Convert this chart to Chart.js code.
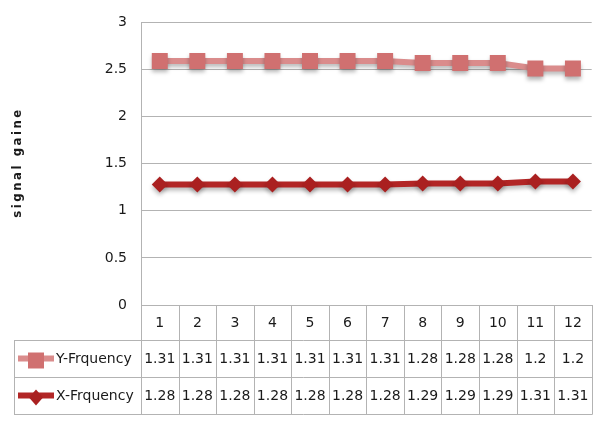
<!DOCTYPE html>
<html><head><meta charset="utf-8">
<script src="https://cdn.jsdelivr.net/npm/chart.js@4/dist/chart.umd.min.js"></script>
<style>html,body{margin:0;padding:0;background:#fff;}#wrap{width:603px;height:421px;position:relative;}</style>
</head><body><div id="wrap"><canvas id="c"></canvas></div>
<script>
const categories = ['1','2','3','4','5','6','7','8','9','10','11','12'];
const yFrequency = [1.31,1.31,1.31,1.31,1.31,1.31,1.31,1.28,1.28,1.28,1.2,1.2];
const xFrequency = [1.28,1.28,1.28,1.28,1.28,1.28,1.28,1.29,1.29,1.29,1.31,1.31];
const seriesNames = ['Y-Frquency','X-Frquency'];
const yTickMin = 0, yTickMax = 3, yTickStep = 0.5;
const axisTitle = 'signal gaine';

const FONT = "'DejaVu Sans', 'Liberation Sans', sans-serif";
const TFONT = "'DejaVu Sans Condensed', 'DejaVu Sans', sans-serif";
const Y_LINE = 'rgb(218,140,140)', Y_MARK = 'rgb(208,112,112)';
const X_LINE = 'rgb(178,38,38)', X_MARK = 'rgb(170,32,32)';
const GRID = '#b3b3b3';
const TXT = '#1a1a1a';

const shadowPlugin = {
  id: 'shadow',
  beforeDatasetsDraw(chart){ const c=chart.ctx; c.save(); c.shadowColor='rgba(0,0,0,0.28)'; c.shadowBlur=4; c.shadowOffsetY=3; },
  afterDatasetsDraw(chart){ chart.ctx.restore(); }
};

const titlePlugin = {
  id: 'yTitle',
  afterDraw(chart){
    const ctx = chart.ctx, area = chart.chartArea;
    ctx.save();
    ctx.font = 'bold 13px ' + TFONT;
    const w0 = ctx.measureText(axisTitle).width;
    const target = 108;
    const sp = Math.max(0, (target - w0) / (axisTitle.length - 1));
    ctx.letterSpacing = sp.toFixed(2) + 'px';
    ctx.fillStyle = TXT;
    ctx.textAlign = 'center'; ctx.textBaseline = 'middle';
    ctx.translate(18, (area.top + area.bottom) / 2);
    ctx.rotate(-Math.PI / 2);
    ctx.fillText(axisTitle, sp / 2, 0);
    ctx.restore();
  }
};

function drawMarker(ctx, style, x, y, color){
  ctx.fillStyle = color;
  ctx.beginPath();
  if (style === 'rect'){ ctx.rect(x-8, y-8, 16, 16); }
  else { ctx.moveTo(x, y-8); ctx.lineTo(x+7, y); ctx.lineTo(x, y+8); ctx.lineTo(x-7, y); ctx.closePath(); }
  ctx.fill();
}

const tablePlugin = {
  id: 'dataTable',
  afterDraw(chart){
    const ctx = chart.ctx, area = chart.chartArea, xs = chart.scales.x;
    const n = categories.length;
    const colW = (area.right - area.left) / n;
    const tableLeft = 14;
    const top = area.bottom;
    const headH = 35, rowH = 37;
    const rows = [
      {name: seriesNames[0], vals: yFrequency, line: Y_LINE, mark: Y_MARK, style: 'rect'},
      {name: seriesNames[1], vals: xFrequency, line: X_LINE, mark: X_MARK, style: 'diamond'}
    ];
    ctx.save();
    ctx.strokeStyle = GRID; ctx.lineWidth = 1;
    ctx.beginPath();
    for (let i = 0; i <= n; i++){
      const x = Math.round(area.left + i*colW) + 0.5;
      ctx.moveTo(x, top); ctx.lineTo(x, top + headH + rows.length*rowH);
    }
    const lx = tableLeft + 0.5;
    ctx.moveTo(lx, top + headH); ctx.lineTo(lx, top + headH + rows.length*rowH);
    for (let r = 0; r <= rows.length; r++){
      const y = Math.round(top + headH + r*rowH) + 0.5;
      ctx.moveTo(tableLeft, y); ctx.lineTo(area.right + 1, y);
    }
    ctx.stroke();
    ctx.fillStyle = TXT;
    ctx.font = '14px ' + FONT;
    ctx.textAlign = 'center'; ctx.textBaseline = 'middle';
    categories.forEach((c, i) => ctx.fillText(c, xs.getPixelForValue(i), top + headH/2 + 1));
    rows.forEach((row, r) => {
      const cy = top + headH + r*rowH + rowH/2;
      ctx.fillStyle = TXT;
      ctx.font = '14px ' + FONT;
      ctx.textAlign = 'center';
      row.vals.forEach((v, i) => ctx.fillText(String(v), xs.getPixelForValue(i), cy + 1));
      ctx.strokeStyle = row.line; ctx.lineWidth = 6;
      ctx.beginPath(); ctx.moveTo(tableLeft + 4, cy); ctx.lineTo(tableLeft + 40, cy); ctx.stroke();
      drawMarker(ctx, row.style, tableLeft + 22, cy + 2, row.mark);
      ctx.fillStyle = TXT;
      ctx.textAlign = 'left';
      ctx.fillText(row.name, tableLeft + 42, cy + 1);
    });
    ctx.restore();
  }
};

new Chart(document.getElementById('c'), {
  type: 'line',
  data: {
    labels: categories,
    datasets: [
      {label: seriesNames[1], data: xFrequency, borderColor: X_LINE, backgroundColor: X_MARK,
       borderWidth: 6, pointStyle: 'rectRot', pointRadius: 8, pointBorderWidth: 0, pointBackgroundColor: X_MARK, fill: false, tension: 0},
      {label: seriesNames[0], data: yFrequency, borderColor: Y_LINE, backgroundColor: Y_MARK,
       borderWidth: 6, pointStyle: 'rect', pointRadius: 11.3, pointBorderWidth: 0, pointBackgroundColor: Y_MARK, fill: false, tension: 0}
    ]
  },
  options: {
    responsive: true, maintainAspectRatio: false, animation: false,
    layout: {padding: {top: 17, bottom: 116, left: 0, right: 10}},
    plugins: {legend: {display: false}, tooltip: {enabled: false}},
    scales: {
      x: {offset: true, grid: {display: false}, ticks: {display: false},
          border: {display: true, color: GRID},
          afterFit(s){ s.height = 0; }},
      y: {stacked: true, min: yTickMin, max: yTickMax,
          ticks: {stepSize: yTickStep, padding: 14, color: TXT, font: {family: FONT, size: 14},
                  callback: (v) => String(v)},
          grid: {color: GRID, drawTicks: false},
          border: {display: true, color: GRID},
          title: {display: false},
          afterFit(s){ s.width = 141; }}
    }
  },
  plugins: [shadowPlugin, tablePlugin, titlePlugin]
});
</script></body></html>
